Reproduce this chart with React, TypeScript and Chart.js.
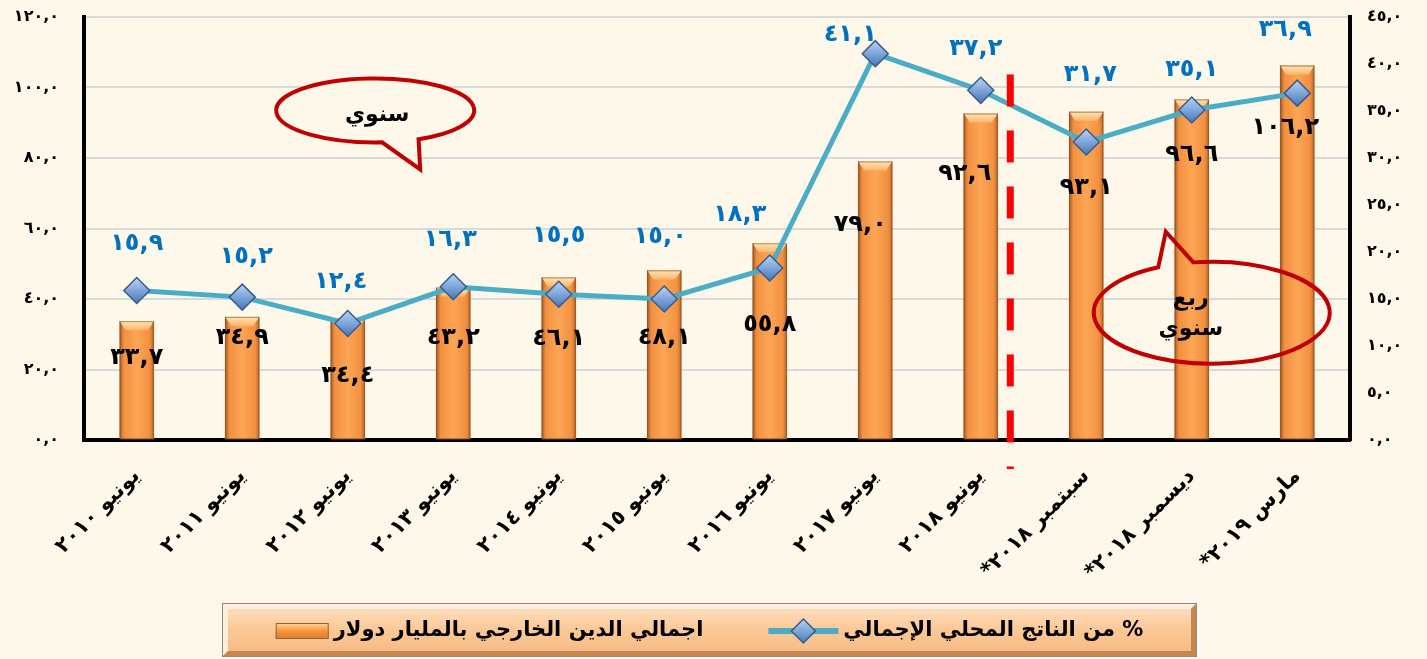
import React, { useEffect, useRef } from 'react';
import { Chart, registerables } from 'chart.js';

Chart.register(...registerables);

// ---------- data ----------
const categories = [
  'يونيو ٢٠١٠',
  'يونيو ٢٠١١',
  'يونيو ٢٠١٢',
  'يونيو ٢٠١٣',
  'يونيو ٢٠١٤',
  'يونيو ٢٠١٥',
  'يونيو ٢٠١٦',
  'يونيو ٢٠١٧',
  'يونيو ٢٠١٨',
  'سبتمبر ٢٠١٨*',
  'ديسمبر ٢٠١٨*',
  'مارس ٢٠١٩*',
];
const debtValues = [33.7, 34.9, 34.4, 43.2, 46.1, 48.1, 55.8, 79.0, 92.6, 93.1, 96.6, 106.2];
const gdpShareValues = [15.9, 15.2, 12.4, 16.3, 15.5, 15.0, 18.3, 41.1, 37.2, 31.7, 35.1, 36.9];

const leftAxisMax = 120;
const leftAxisStep = 20;
const rightAxisMax = 45;
const rightAxisStep = 5;

const debtSeriesName = 'اجمالي الدين الخارجي بالمليار دولار';
const gdpSeriesName = '% من الناتج المحلي الإجمالي';
const annualText = ['سنوي'];
const quarterlyText = ['ربع', 'سنوي'];

// ---------- label layout (pixel offsets of value labels from the line points) ----------
const lineLabelDy = [-47, -40, -42, -47, -59, -62, -53, -19, -42, -67, -40, -63];
const lineLabelDx = [0, 4, -7, -3, 0, -4, -30, -25, -5, 4, 0, -12];
const barLabelDy = [67, 41, 52, 51, 44, 39, 57, 171, 83, 46, 45, 35];
const barLabelDx = [0, 0, 0, 0, 0, 0, 0, -15, -16, 0, 0, -12];

const BG = '#FDF8E9';
const AR_DIGITS = '٠١٢٣٤٥٦٧٨٩';
const toAr = (s: string) => s.replace(/[0-9]/g, (d) => AR_DIGITS[+d]);
const fmt = (v: number) => toAr(v.toFixed(1)).replace('.', ',');
const FONT = '"DejaVu Sans", "Noto Sans", sans-serif';

const BAR_W = 34;

function catPixel(chart: any, idx: number) {
  const xs = chart.scales.x;
  const p0 = xs.getPixelForValue(0);
  const p1 = xs.getPixelForValue(1);
  return p0 + idx * (p1 - p0);
}

const bgPlugin = {
  id: 'bg',
  beforeDraw(chart: any) {
    const c = chart.ctx;
    c.save();
    c.fillStyle = BG;
    c.fillRect(0, 0, chart.width, chart.height);
    c.restore();
  },
};

const bevelPlugin = {
  id: 'bevel',
  afterDatasetDraw(chart: any, args: any) {
    if (args.index !== 0) return;
    const c = chart.ctx;
    const meta = chart.getDatasetMeta(0);
    c.save();
    meta.data.forEach((bar: any) => {
      const { x, y, base, width } = bar.getProps(['x', 'y', 'base', 'width'], true);
      if (![x, y, base, width].every(Number.isFinite)) return;
      const hw = width / 2;
      const g = c.createLinearGradient(0, y, 0, y + 9);
      g.addColorStop(0, '#FFE6B8');
      g.addColorStop(1, '#FBB36A');
      c.beginPath();
      c.moveTo(x - hw, y);
      c.lineTo(x + hw, y);
      c.lineTo(x + hw - 6, y + 9);
      c.lineTo(x - hw + 6, y + 9);
      c.closePath();
      c.fillStyle = g;
      c.fill();
      c.strokeStyle = 'rgba(130,75,30,0.55)';
      c.lineWidth = 1;
      c.strokeRect(x - hw + 0.5, y + 0.5, width - 1, base - y - 1);
    });
    c.restore();
  },
};

const labelsPlugin = {
  id: 'valueLabels',
  afterDatasetsDraw(chart: any) {
    const c = chart.ctx;
    const barMeta = chart.getDatasetMeta(0);
    const lineMeta = chart.getDatasetMeta(1);
    c.save();
    c.direction = 'rtl';
    c.textAlign = 'center';
    c.textBaseline = 'middle';
    c.font = `bold 24px ${FONT}`;
    barMeta.data.forEach((bar: any, i: number) => {
      const pt = lineMeta.data[i];
      c.fillStyle = '#000000';
      c.fillText(fmt(debtValues[i]), bar.x + barLabelDx[i], pt.y + barLabelDy[i]);
    });
    lineMeta.data.forEach((pt: any, i: number) => {
      c.fillStyle = '#0070C0';
      c.fillText(fmt(gdpShareValues[i]), pt.x + lineLabelDx[i], pt.y + lineLabelDy[i]);
    });
    c.restore();
  },
};

function drawBubble(
  c: CanvasRenderingContext2D,
  cx: number,
  cy: number,
  rx: number,
  ry: number,
  a1: number,
  a2: number,
  tipDx: number,
  tipDy: number,
  fill: boolean,
) {
  const r = Math.PI / 180;
  c.beginPath();
  c.ellipse(cx, cy, rx, ry, 0, a1 * r, (a2 + 360) * r, false);
  c.lineTo(cx + tipDx, cy + tipDy);
  c.closePath();
  if (fill) {
    c.fillStyle = BG;
    c.fill();
  }
  c.strokeStyle = '#C00000';
  c.lineWidth = 4;
  c.lineJoin = 'miter';
  c.stroke();
}

const overlayPlugin = {
  id: 'overlay',
  afterDraw(chart: any) {
    const c = chart.ctx;
    const yl = chart.scales.y;
    const area = chart.chartArea;
    c.save();

    // red dashed separator between annual and quarterly data
    const sx = catPixel(chart, 8.28);
    const yTop = yl.getPixelForValue(103.7);
    const yBot = area.bottom + 29;
    c.fillStyle = '#FF0000';
    for (let yy = yTop; yy < yBot; yy += 56) {
      c.fillRect(sx - 3.5, yy, 7, Math.min(32, yBot - yy));
    }

    // speech bubbles
    const b1x = catPixel(chart, 2.26);
    const b1y = yl.getPixelForValue(93.5);
    drawBubble(c, b1x, b1y, 99, 32, 86, 64, 45, 59, true);
    const b2x = catPixel(chart, 10.19);
    const b2y = yl.getPixelForValue(36.1);
    drawBubble(c, b2x, b2y, 118, 51, 261, 243, -46, -81, false);

    c.direction = 'rtl';
    c.textAlign = 'center';
    c.textBaseline = 'middle';
    c.fillStyle = '#000000';
    c.font = `bold 22px ${FONT}`;
    c.fillText(annualText[0], b1x + 2, b1y + 5);
    c.fillText(quarterlyText[0], b2x - 21, b2y - 13);
    c.fillText(quarterlyText[1], b2x - 21, b2y + 17);

    // legend box
    const bx = 222, by = 603, bw = 975, bh = 54;
    c.fillStyle = '#D9955A';
    c.fillRect(bx, by, bw, bh);
    const lg = c.createLinearGradient(0, by, 0, by + bh);
    lg.addColorStop(0, '#FEE3C6');
    lg.addColorStop(0.5, '#FBC896');
    lg.addColorStop(1, '#F7B880');
    c.fillStyle = '#FEEEDD';
    c.beginPath();
    c.moveTo(bx, by); c.lineTo(bx + bw, by); c.lineTo(bx + bw - 6, by + 6); c.lineTo(bx + 6, by + 6); c.lineTo(bx + 6, by + bh - 6); c.lineTo(bx, by + bh);
    c.closePath();
    c.fill();
    c.fillStyle = '#C68650';
    c.beginPath();
    c.moveTo(bx + bw, by); c.lineTo(bx + bw, by + bh); c.lineTo(bx, by + bh); c.lineTo(bx + 6, by + bh - 6); c.lineTo(bx + bw - 6, by + bh - 6); c.lineTo(bx + bw - 6, by + 6);
    c.closePath();
    c.fill();
    c.fillStyle = lg;
    c.fillRect(bx + 6, by + 6, bw - 12, bh - 12);
    c.strokeStyle = '#8A8A8A';
    c.lineWidth = 1;
    c.strokeRect(bx + 0.5, by + 0.5, bw - 1, bh - 1);

    c.font = `bold 21px ${FONT}`;
    c.textAlign = 'right';
    c.fillStyle = '#000000';
    const w1 = c.measureText(gdpSeriesName).width;
    const w2 = c.measureText(debtSeriesName).width;
    const iconLine = 70, iconBar = 53, gapIcon = 5, gapItems = 65;
    const total = w1 + gapIcon + iconLine + gapItems + w2 + gapIcon + iconBar;
    const ly = by + bh / 2 + 1;
    let right = bx + bw / 2 + total / 2;
    c.fillText(gdpSeriesName, right, ly);
    right -= w1 + gapIcon;
    c.strokeStyle = '#4BACC6';
    c.lineWidth = 6;
    c.beginPath();
    c.moveTo(right - iconLine, ly);
    c.lineTo(right, ly);
    c.stroke();
    const dcx = right - iconLine / 2;
    const dg = c.createLinearGradient(0, ly - 12, 0, ly + 12);
    dg.addColorStop(0, '#B9D1F0');
    dg.addColorStop(1, '#4A7DC0');
    c.beginPath();
    c.moveTo(dcx, ly - 12); c.lineTo(dcx + 12, ly); c.lineTo(dcx, ly + 12); c.lineTo(dcx - 12, ly);
    c.closePath();
    c.fillStyle = dg;
    c.fill();
    c.strokeStyle = '#385D8A';
    c.lineWidth = 1.5;
    c.stroke();
    right -= iconLine + gapItems;
    c.fillStyle = '#000000';
    c.fillText(debtSeriesName, right, ly);
    right -= w2 + gapIcon;
    const bg2 = c.createLinearGradient(0, ly - 8, 0, ly + 8);
    bg2.addColorStop(0, '#FFD59C');
    bg2.addColorStop(0.5, '#F7963F');
    bg2.addColorStop(1, '#D9782C');
    c.fillStyle = bg2;
    c.fillRect(right - iconBar, ly - 8, iconBar, 16);
    c.strokeStyle = '#A0602A';
    c.lineWidth = 1;
    c.strokeRect(right - iconBar + 0.5, ly - 7.5, iconBar - 1, 15);

    c.restore();
  },
};

export default function App() {
  const ref = useRef<HTMLCanvasElement | null>(null);

  useEffect(() => {
    document.body.style.margin = '0';
    const canvas = ref.current!;
    const chart = new Chart(canvas, {
      type: 'bar',
      data: {
        labels: categories,
        datasets: [
          {
            type: 'bar',
            label: debtSeriesName,
            data: debtValues,
            yAxisID: 'y',
            order: 1,
            barThickness: BAR_W,
            backgroundColor: (ctx: any) => {
              const xs = ctx.chart.scales?.x;
              if (!xs || ctx.dataIndex == null) return '#F79646';
              const cx = xs.getPixelForValue(ctx.dataIndex);
              if (!Number.isFinite(cx)) return '#F79646';
              const g = ctx.chart.ctx.createLinearGradient(cx - BAR_W / 2, 0, cx + BAR_W / 2, 0);
              g.addColorStop(0, '#A85E28');
              g.addColorStop(0.12, '#F29040');
              g.addColorStop(0.5, '#FCA655');
              g.addColorStop(0.88, '#F29040');
              g.addColorStop(1, '#B86A2E');
              return g;
            },
            borderWidth: 0,
          },
          {
            type: 'line',
            label: gdpSeriesName,
            data: gdpShareValues,
            yAxisID: 'y1',
            order: 0,
            borderColor: '#4BACC6',
            borderWidth: 5,
            tension: 0,
            pointStyle: 'rectRot',
            pointRadius: 13,
            pointBorderColor: '#385D8A',
            pointBorderWidth: 1.5,
            pointBackgroundColor: (ctx: any) => {
              const ys = ctx.chart.scales?.y1;
              if (!ys || ctx.dataIndex == null) return '#6C96D0';
              const py = ys.getPixelForValue(gdpShareValues[ctx.dataIndex]);
              if (!Number.isFinite(py)) return '#6C96D0';
              const g = ctx.chart.ctx.createLinearGradient(0, py - 13, 0, py + 13);
              g.addColorStop(0, '#BCD3F1');
              g.addColorStop(0.5, '#7EA5DA');
              g.addColorStop(1, '#4676B8');
              return g;
            },
          } as any,
        ],
      },
      options: {
        responsive: false,
        animation: false,
        layout: { padding: { top: 17, left: 0, right: 0, bottom: 0 } },
        plugins: {
          legend: { display: false },
          tooltip: { enabled: false },
        },
        scales: {
          x: {
            grid: { display: false, drawTicks: false },
            border: { display: true, color: '#000000', width: 4 },
            ticks: {
              autoSkip: false,
              minRotation: 45,
              maxRotation: 45,
              padding: 24,
              color: '#000000',
              font: { family: FONT, size: 21, weight: 'bold' },
            },
            afterFit: (s: any) => {
              s.height = 219;
              s.paddingLeft = 0;
              s.paddingRight = 0;
            },
          },
          y: {
            position: 'left',
            min: 0,
            max: leftAxisMax,
            grid: { color: '#D9D9D9', lineWidth: 2, drawTicks: false },
            border: { display: true, color: '#000000', width: 4 },
            ticks: {
              stepSize: leftAxisStep,
              padding: 25,
              color: '#000000',
              font: { family: FONT, size: 16, weight: 'bold' },
              callback: (v: any) => fmt(Number(v)),
            },
            afterFit: (s: any) => {
              s.width = 84;
              s.paddingTop = 0;
              s.paddingBottom = 0;
            },
          },
          y1: {
            position: 'right',
            min: 0,
            max: rightAxisMax,
            grid: { display: false, drawTicks: false },
            border: { display: true, color: '#000000', width: 4 },
            ticks: {
              stepSize: rightAxisStep,
              padding: 17,
              color: '#000000',
              font: { family: FONT, size: 16, weight: 'bold' },
              callback: (v: any) => fmt(Number(v)),
            },
            afterFit: (s: any) => {
              s.width = 77;
              s.paddingTop = 0;
              s.paddingBottom = 0;
            },
          },
        },
      } as any,
      plugins: [bgPlugin, bevelPlugin, labelsPlugin, overlayPlugin],
    });
    return () => chart.destroy();
  }, []);

  return (
    <div style={{ width: 1427, height: 659, background: BG }}>
      <canvas ref={ref} width={1427} height={659} style={{ display: 'block', direction: 'rtl' }} dir="rtl" />
    </div>
  );
}
